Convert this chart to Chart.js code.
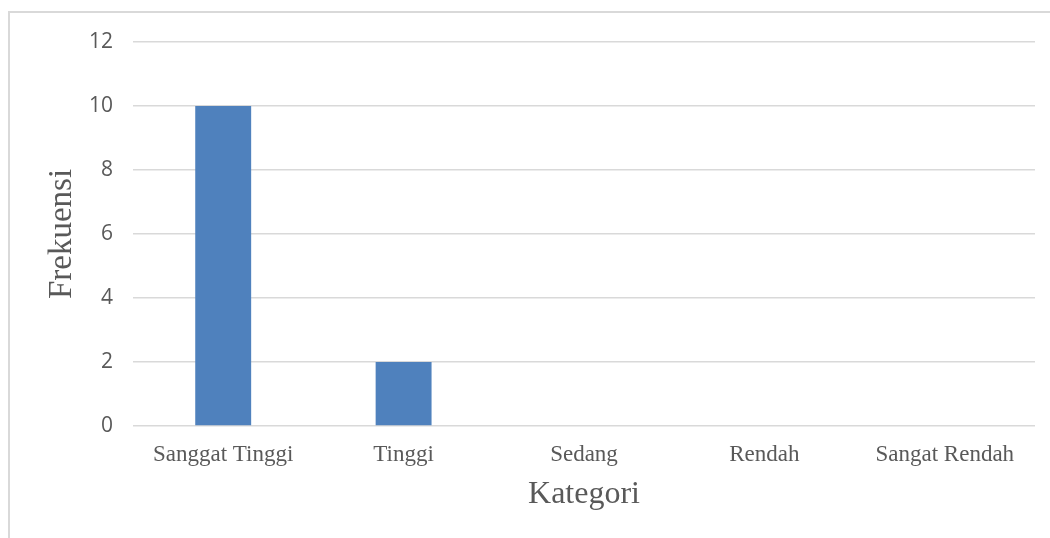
<!DOCTYPE html>
<html><head><meta charset="utf-8">
<script src="https://cdn.jsdelivr.net/npm/chart.js@4"></script>
<style>
html,body{margin:0;padding:0;background:#fff;}
#wrap{position:relative;width:1050px;height:538px;overflow:hidden;}
#frame{position:absolute;left:8px;top:11px;width:1100px;height:600px;border:2px solid #d9d9d9;box-sizing:border-box;}
canvas{position:absolute;left:0;top:0;}
</style></head><body>
<div id="wrap"><div id="frame"></div><canvas id="c" width="1050" height="538"></canvas></div>
<script>
const categories = ["Sanggat Tinggi","Tinggi","Sedang","Rendah","Sangat Rendah"];
const frekuensi = [10, 2, 0, 0, 0];
const yTicks = [0, 2, 4, 6, 8, 10, 12];

new Chart(document.getElementById('c'), {
  type: 'bar',
  data: { labels: categories, datasets: [{ data: frekuensi, backgroundColor: '#4f81bd', barPercentage: 0.31, categoryPercentage: 1.0 }] },
  options: {
    responsive: false, animation: false,
    layout: { padding: { left: 0, right: 15, top: 42, bottom: 22 } },
    plugins: { legend: { display: false }, tooltip: { enabled: false } },
    scales: {
      x: {
        grid: { display: false, drawTicks: false },
        border: { display: false },
        ticks: { color: '#595959', font: { family: 'Liberation Serif', size: 23 }, padding: 15, maxRotation: 0 },
        title: { display: true, text: 'Kategori', color: '#595959', font: { family: 'Liberation Serif', size: 32 }, padding: { top: 0, bottom: 2 } },
        afterFit: a => { a.height = 538 - 426 - 22; }
      },
      y: {
        min: 0, max: 12,
        afterBuildTicks: a => { a.ticks = yTicks.map(v => ({ value: v })); },
        grid: { color: '#d9d9d9', lineWidth: 1.5, drawTicks: false },
        border: { display: false },
        ticks: { color: '#595959', font: { family: 'Open Sans', size: 21 }, padding: 20 },
        title: { display: true, text: 'Frekuensi', color: '#595959', font: { family: 'Liberation Serif', size: 33 }, padding: { top: 43, bottom: 0 } },
        afterFit: a => { a.width = 133; }
      }
    }
  }
});
</script>
</body></html>
